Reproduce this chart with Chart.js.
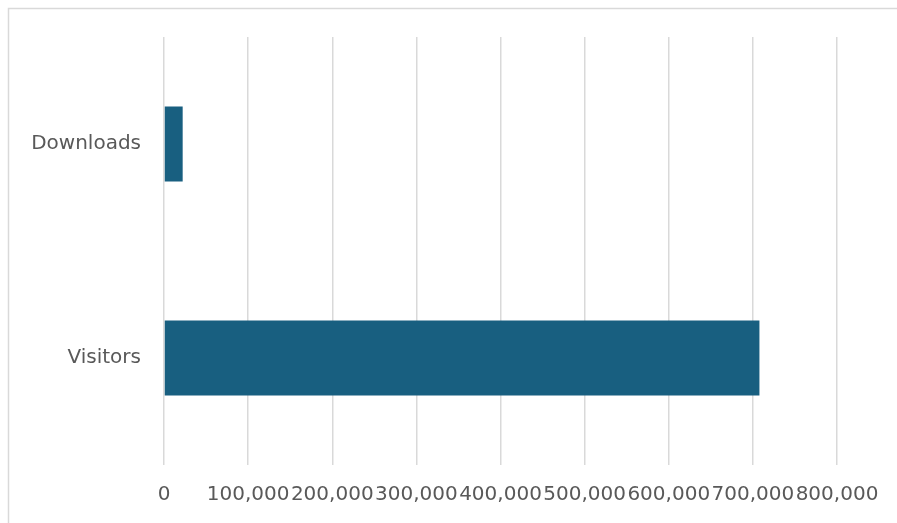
<!DOCTYPE html>
<html>
<head>
<meta charset="utf-8">
<script src="https://cdn.jsdelivr.net/npm/chart.js@4.4.1/dist/chart.umd.min.js"></script>
<style>
  html, body { margin: 0; padding: 0; background: #fff; }
  #wrap { width: 897px; height: 523px; position: relative; }
</style>
</head>
<body>
<div id="wrap"><canvas id="chart" width="897" height="523"></canvas></div>
<script>
// data
const categories = ["Downloads", "Visitors"];
const values = [22200, 707800];
const xTicks = [0, 100000, 200000, 300000, 400000, 500000, 600000, 700000, 800000];

const barColor = "#185F80";
const textColor = "#595959";
const gridColor = "#d9d9d9";

// light frame round the chart, open at right and bottom
const framePlugin = {
    id: "frame",
    beforeDraw(chart) {
        const ctx = chart.ctx;
        ctx.save();
        ctx.strokeStyle = gridColor;
        ctx.lineWidth = 1.5;
        ctx.beginPath();
        ctx.moveTo(8.5, chart.height);
        ctx.lineTo(8.5, 8.5);
        ctx.lineTo(chart.width, 8.5);
        ctx.stroke();
        ctx.restore();
    }
};

new Chart(document.getElementById("chart"), {
    type: "bar",
    data: {
        labels: categories,
        datasets: [{
            data: values,
            backgroundColor: barColor,
            barPercentage: 0.7,
            categoryPercentage: 0.5,
        }],
    },
    options: {
        indexAxis: "y",
        responsive: false,
        animation: false,
        layout: { padding: { top: 37, right: 60, left: 0, bottom: 0 } },
        plugins: {
            legend: { display: false },
            tooltip: { enabled: false },
        },
        scales: {
            x: {
                min: 0,
                max: 800000,
                afterBuildTicks(axis) {
                    axis.ticks = xTicks.map(v => ({ value: v }));
                },
                afterFit(axis) { axis.height = 58; },
                grid: { color: gridColor, lineWidth: 1.5, drawTicks: false },
                border: { display: false },
                ticks: {
                    autoSkip: false,
                    maxRotation: 0,
                    minRotation: 0,
                    padding: 18,
                    color: textColor,
                    font: { family: "DejaVu Sans", size: 20 },
                    callback: v => v.toLocaleString("en-US"),
                },
            },
            y: {
                afterFit(axis) { axis.width = 164; },
                grid: { display: false },
                border: { display: false },
                ticks: {
                    padding: 15,
                    color: textColor,
                    font: { family: "DejaVu Sans", size: 20 },
                },
            },
        },
    },
    plugins: [framePlugin],
});
</script>
</body>
</html>
